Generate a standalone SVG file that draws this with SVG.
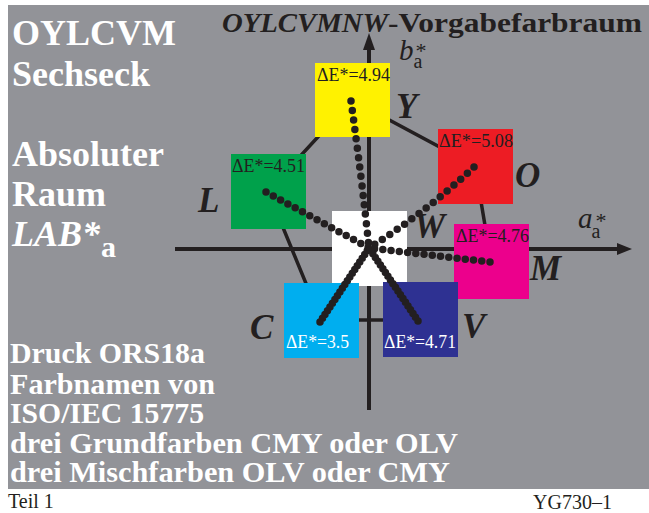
<svg xmlns="http://www.w3.org/2000/svg" width="649" height="513" viewBox="0 0 649 513">
<style>
.t{font-family:"Liberation Serif","Times New Roman",serif}
.wb{fill:#fff;font-weight:bold;font-size:36px}
.wb2{fill:#fff;font-weight:bold;font-size:29px}
.lab{fill:#231f20;font-weight:bold;font-style:italic;font-size:35px}
.de{font-size:18px}
.dk{fill:#231f20}
.ax{stroke:#231f20;stroke-width:4;fill:none}
.hx{stroke:#231f20;stroke-width:3.5;fill:none}
.dot{stroke:#231f20;stroke-width:7.5;stroke-linecap:round;fill:none}
</style>
<rect x="0" y="0" width="649" height="513" fill="#fff"/>
<rect x="8" y="5" width="641" height="484" fill="#929398"/>
<g id="connectors">
<polygon class="hx" points="352,100 475,166 491,261 420,320 321,320 268,191"/>
<line class="ax" x1="175" y1="249" x2="620" y2="249"/>
<polygon points="617,243 632,249 617,255" fill="#231f20"/>
<line class="ax" x1="369" y1="410" x2="369" y2="47"/>
<polygon points="363,50 369,33 375,50" fill="#231f20"/>
</g>
<g id="node-W"><rect x="332" y="211" width="75" height="75" fill="#fff"/><text class="t lab" x="414" y="238">W</text></g>
<g id="node-Y"><rect x="315" y="63" width="75" height="74" fill="#fff200"/><text class="t de dk" x="317" y="81" textLength="73" lengthAdjust="spacingAndGlyphs">ΔE*=4.94</text><text class="t lab" x="396" y="118">Y</text></g>
<g id="node-O"><rect x="438" y="129" width="75" height="75" fill="#ed1c24"/><text class="t de dk" x="439" y="147" textLength="74" lengthAdjust="spacingAndGlyphs">ΔE*=5.08</text><text class="t lab" x="515" y="187">O</text></g>
<g id="node-L"><rect x="231" y="154" width="75" height="75" fill="#00a14b"/><text class="t de dk" x="232" y="172" textLength="73" lengthAdjust="spacingAndGlyphs">ΔE*=4.51</text><text class="t lab" x="198" y="212">L</text></g>
<g id="node-M"><rect x="454" y="224" width="75" height="75" fill="#ec008c"/><text class="t de dk" x="456" y="242" textLength="73" lengthAdjust="spacingAndGlyphs">ΔE*=4.76</text><text class="t lab" x="530" y="280">M</text></g>
<g id="node-C"><rect x="284" y="283" width="75" height="75" fill="#00aeef"/><text class="t de" fill="#fff" x="286" y="348" textLength="63" lengthAdjust="spacingAndGlyphs">ΔE*=3.5</text><text class="t lab" x="250" y="339">C</text></g>
<g id="node-V"><rect x="383" y="282" width="75" height="75" fill="#2e3192"/><text class="t de" fill="#fff" x="384" y="348" textLength="72" lengthAdjust="spacingAndGlyphs">ΔE*=4.71</text><text class="t lab" x="462" y="338">V</text></g>
<g id="dots">
<path class="dot" d="M351,101 Q362,180 369,248" stroke-dasharray="0 9.5"/>
<path class="dot" d="M474,167 Q425,213 369,248" stroke-dasharray="0 9"/>
<path class="dot" d="M266,192 L369,248" stroke-dasharray="0 8.3"/>
<path class="dot" d="M490,262 L369,248" stroke-dasharray="0 8.3"/>
<path class="dot" d="M320,322 L369,248" stroke-dasharray="0 4.5"/>
<path class="dot" d="M418,321 L369,248" stroke-dasharray="0 4.5"/>
</g>
<g id="axis-labels" class="t" fill="#231f20">
<text x="399" y="60" font-size="29"><tspan font-style="italic">b</tspan><tspan font-size="22" dx="2" dy="-2">*</tspan><tspan font-size="20" dx="-13" dy="10">a</tspan></text>
<text x="578" y="228" font-size="29"><tspan font-style="italic">a</tspan><tspan font-size="22" dx="3">*</tspan><tspan font-size="20" dx="-15" dy="10">a</tspan></text>
</g>
<g id="title" class="t" fill="#231f20" font-weight="bold" font-size="28">
<text x="222" y="32" font-style="italic" textLength="166" lengthAdjust="spacingAndGlyphs">OYLCVMNW</text>
<text x="388" y="32" textLength="254" lengthAdjust="spacingAndGlyphs">-Vorgabefarbraum</text>
</g>
<g id="left-text" class="t">
<text class="wb" x="12" y="45">OYLCVM</text>
<text class="wb" x="12" y="86">Sechseck</text>
<text class="wb" x="12" y="166">Absoluter</text>
<text class="wb" x="12" y="206">Raum</text>
<text class="wb" x="12" y="246"><tspan font-style="italic">LAB*</tspan><tspan font-size="30" dx="1" dy="11">a</tspan></text>
<text class="wb2" x="10" y="363" textLength="195" lengthAdjust="spacingAndGlyphs">Druck ORS18a</text>
<text class="wb2" x="10" y="394" textLength="205" lengthAdjust="spacingAndGlyphs">Farbnamen von</text>
<text class="wb2" x="10" y="423" textLength="194" lengthAdjust="spacingAndGlyphs">ISO/IEC 15775</text>
<text class="wb2" x="10" y="453" textLength="448" lengthAdjust="spacingAndGlyphs">drei Grundfarben CMY oder OLV</text>
<text class="wb2" x="10" y="482" textLength="440" lengthAdjust="spacingAndGlyphs">drei Mischfarben OLV oder CMY</text>
</g>
<g id="footer" class="t" fill="#231f20" font-size="20">
<text x="8" y="508">Teil 1</text>
<text x="533" y="509">YG730–1</text>
</g>
</svg>
